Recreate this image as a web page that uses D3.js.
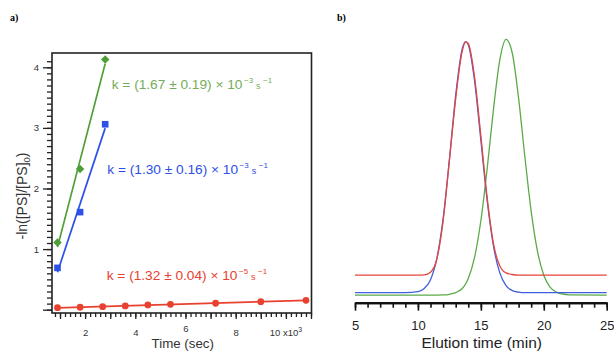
<!DOCTYPE html>
<html>
<head>
<meta charset="utf-8">
<script src="https://cdn.jsdelivr.net/npm/d3@7"></script>
<style>
  body { margin: 0; background: #fff; }
  text { font-family: "Liberation Sans", Arial, sans-serif; }
</style>
</head>
<body>
<div id="chart"></div>
<script>
// ---- panel a: -ln([PS]/[PS]0) vs time ----
const timeGB = [900, 1800, 2800];
const timeRed = [900, 1800, 2700, 3600, 4500, 5400, 7200, 9000, 10800];
const lnGreen = [1.11, 2.32, 4.13];
const lnBlue = [0.69, 1.61, 3.06];
const lnRed = [0.033, 0.040, 0.050, 0.061, 0.078, 0.089, 0.106, 0.132, 0.155];
const kText = ["k = (1.67 ± 0.19) × 10", "k = (1.30 ± 0.16) × 10", "k = (1.32 ± 0.04) × 10"];
const kExp = ["−3", "−3", "−5"];
const yTicksA = [1, 2, 3, 4];
const xTicksA = [2000, 4000, 6000, 8000, 10000];

// ---- panel b: GPC traces ----
const elution = [5, 9, 10, 10.5, 11, 11.5, 12, 12.5, 13, 13.5, 13.8, 14, 14.5, 15, 15.5, 16, 16.5, 17, 17.5, 18, 18.5, 19, 19.5, 20, 20.5, 21, 21.5, 22, 25];
const sigRed   = [10.5, 10.5, 10.5, 10.6, 11.6, 16.5, 31.0, 54.0, 77.4, 95.0, 99.0, 98.4, 85.7, 63.4, 40.0, 22.5, 14.0, 11.3, 10.7, 10.5, 10.5, 10.5, 10.5, 10.5, 10.5, 10.5, 10.5, 10.5, 10.5];
const sigBlue  = [3.8, 3.8, 4.2, 5.4, 8.7, 16.7, 31.8, 54.2, 78.7, 96.0, 99.1, 97.9, 84.2, 61.7, 38.8, 21.6, 11.4, 6.5, 4.6, 4.0, 3.8, 3.8, 3.8, 3.8, 3.8, 3.8, 3.8, 3.8, 3.8];
const sigGreen = [2.9, 2.9, 2.9, 2.9, 2.9, 2.9, 2.95, 3.2, 3.8, 5.3, 7.2, 9.2, 17.2, 31.1, 50.8, 73.3, 92.0, 100, 94.7, 77.6, 55.3, 34.7, 19.5, 10.4, 5.9, 4.0, 3.3, 3.0, 2.9];
const xTicksB = [5, 10, 15, 20, 25];

const GREEN = "#4f9d35", GREEN_TXT = "#74ad5a", BLUE = "#2d50e6", RED = "#e8412f";

const svg = d3.select("#chart").append("svg")
  .attr("width", 614).attr("height", 352)
  .style("background", "#fff");

// panel labels
svg.append("text").attr("x", 10).attr("y", 21).text("a)")
  .style("font-family", "'Liberation Serif', serif").attr("font-weight", "bold").attr("font-size", 10);
svg.append("text").attr("x", 337).attr("y", 21).text("b)")
  .style("font-family", "'Liberation Serif', serif").attr("font-weight", "bold").attr("font-size", 10);

// ===== panel a =====
const A = { left: 52, right: 311.5, top: 53, bottom: 313 };
const xa = d3.scaleLinear().domain([681, 11020]).range([A.left, A.right]);
const ya = d3.scaleLinear().domain([-0.055, 4.236]).range([A.bottom, A.top]);

const ga = svg.append("g");

// minor / major ticks, then labels
const yMinor = ga.append("g").attr("transform", `translate(${A.left},0)`)
  .call(d3.axisLeft(ya).tickValues(d3.range(0, 42).map(i => i / 10)).tickSize(5).tickFormat(""));
const yMajor = ga.append("g").attr("transform", `translate(${A.left},0)`)
  .call(d3.axisLeft(ya).tickValues([0, ...yTicksA]).tickSize(9).tickPadding(4)
    .tickFormat(d => d === 0 ? "" : d));
const xMinor = ga.append("g").attr("transform", `translate(0,${A.bottom})`)
  .call(d3.axisBottom(xa).tickValues(d3.range(800, 11001, 200)).tickSize(4).tickFormat(""));
const xMajor = ga.append("g").attr("transform", `translate(0,${A.bottom})`)
  .call(d3.axisBottom(xa).tickValues(d3.range(1000, 11001, 1000)).tickSize(6).tickPadding(10)
    .tickFormat(d => xTicksA.includes(d) && d < 10000 ? d / 1000 : ""));

[yMinor, yMajor, xMinor, xMajor].forEach(g => {
  g.select(".domain").remove();
  g.selectAll("line").attr("stroke", "#222").attr("stroke-width", 1.3);
  g.selectAll("text").attr("font-size", 9.5).attr("fill", "#333")
    .style("font-family", "'Liberation Sans', Arial, sans-serif");
});
// the "6" sits a little higher, just above the axis title
xMajor.selectAll(".tick").filter(d => d === 6000).select("text").attr("y", 12);

// "10 x10^3" label centred on the 10000 tick
const lastLbl = ga.append("text").attr("x", xa(10000)).attr("y", 335.5)
  .attr("text-anchor", "middle").attr("font-size", 9.5).attr("fill", "#333");
lastLbl.append("tspan").text("10 x10");
lastLbl.append("tspan").text("3").attr("font-size", 7).attr("dy", -4);

// frame
ga.append("rect").attr("x", A.left).attr("y", A.top)
  .attr("width", A.right - A.left).attr("height", A.bottom - A.top)
  .attr("fill", "none").attr("stroke", "#222").attr("stroke-width", 1.6);

// axis titles
ga.append("text").attr("x", (A.left + A.right) / 2 + 1).attr("y", 348)
  .attr("text-anchor", "middle").attr("font-size", 13.3).attr("fill", "#333").text("Time (sec)");
const yTitle = ga.append("text")
  .attr("transform", `translate(27,196) rotate(-90)`)
  .attr("text-anchor", "middle").attr("font-size", 14).attr("fill", "#333");
yTitle.append("tspan").text("-ln([PS]/[PS]");
yTitle.append("tspan").text("0").attr("font-size", 9.5).attr("dy", 3);
yTitle.append("tspan").text(")").attr("dy", -3);

// fits and markers
function fit(xs, ys) {
  const mx = d3.mean(xs), my = d3.mean(ys);
  const sxy = d3.sum(xs, (x, i) => (x - mx) * (ys[i] - my));
  const sxx = d3.sum(xs, x => (x - mx) * (x - mx));
  const b = sxy / sxx, a = my - b * mx;
  const x0 = d3.min(xs), x1 = d3.max(xs);
  return [[x0, a + b * x0], [x1, a + b * x1]];
}
const seriesA = [
  { xs: timeGB, ys: lnGreen, color: GREEN, sym: d3.symbolSquare, size: 36, rot: 45 },
  { xs: timeGB, ys: lnBlue, color: BLUE, sym: d3.symbolSquare, size: 44, rot: 0 },
  { xs: timeRed, ys: lnRed, color: RED, sym: d3.symbolCircle, size: 36, rot: 0 }
];
const lineA = d3.line().x(d => xa(d[0])).y(d => ya(d[1]));
seriesA.forEach(s => {
  ga.append("path").attr("d", lineA(fit(s.xs, s.ys)))
    .attr("fill", "none").attr("stroke", s.color).attr("stroke-width", 1.7);
  ga.selectAll(null).data(s.xs.map((x, i) => [x, s.ys[i]])).join("path")
    .attr("transform", d => `translate(${xa(d[0])},${ya(d[1])}) rotate(${s.rot})`)
    .attr("d", d3.symbol(s.sym, s.size)).attr("fill", s.color);
});

// rate constant annotations
const annot = [
  { x: 111.7, y: 89.3, color: GREEN_TXT },
  { x: 107.3, y: 174, color: BLUE },
  { x: 106.7, y: 280, color: RED }
];
annot.forEach((a, i) => {
  const t = ga.append("text").attr("x", a.x).attr("y", a.y).attr("fill", a.color).attr("font-size", 13.7);
  t.append("tspan").text(kText[i]);
  t.append("tspan").text(kExp[i]).attr("font-size", 8).attr("dx", 1.5).attr("dy", -6);
  t.append("tspan").text("s").attr("font-size", 9).attr("dx", 3).attr("dy", 6);
  t.append("tspan").text("−1").attr("font-size", 8).attr("dx", 2.5).attr("dy", -6);
});

// ===== panel b =====
const B = { left: 355, right: 606.7, axisY: 302.7 };
const xb = d3.scaleLinear().domain([5, 25]).range([B.left, B.right]);
const yb = d3.scaleLinear().domain([0, 100]).range([B.axisY, 39.3]);

const gb = svg.append("g");
const bMinor = gb.append("g").attr("transform", `translate(0,${B.axisY})`)
  .call(d3.axisBottom(xb).tickValues(d3.range(5, 26)).tickSize(5).tickSizeOuter(0).tickFormat(""));
const bMajor = gb.append("g").attr("transform", `translate(0,${B.axisY})`)
  .call(d3.axisBottom(xb).tickValues(xTicksB).tickSize(8).tickSizeOuter(0).tickPadding(10));
[bMinor, bMajor].forEach(g => {
  g.selectAll("line").attr("stroke", "#111").attr("stroke-width", 1.6);
  g.select(".domain").attr("stroke", "#111").attr("stroke-width", 2.2);
  g.selectAll("text").attr("font-size", 13).attr("fill", "#222")
    .style("font-family", "'Liberation Sans', Arial, sans-serif");
});
gb.append("text").attr("x", 481.7).attr("y", 347.5).attr("text-anchor", "middle")
  .attr("font-size", 15.5).attr("fill", "#222").text("Elution time (min)");

const lineB = d3.line().x(d => xb(d[0])).y(d => yb(d[1])).curve(d3.curveMonotoneX);
[[sigGreen, "#5aab47"], [sigBlue, "#3f5fe0"], [sigRed, "#e8453a"]].forEach(([vals, c]) => {
  gb.append("path").attr("d", lineB(elution.map((t, i) => [t, vals[i]])))
    .attr("fill", "none").attr("stroke", c).attr("stroke-width", 1.3);
});
</script>
</body>
</html>
